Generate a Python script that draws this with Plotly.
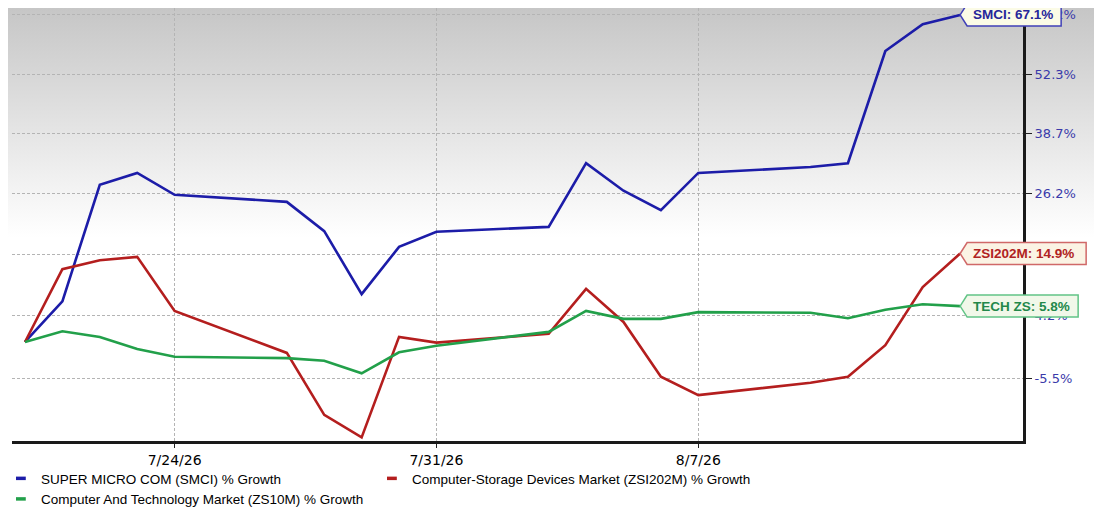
import base64
import math

import pandas as pd
import plotly.graph_objects as go

# trading days on the chart
dates = ["2026-07-20", "2026-07-21", "2026-07-22", "2026-07-23", "2026-07-24",
         "2026-07-27", "2026-07-28", "2026-07-29", "2026-07-30", "2026-07-31",
         "2026-08-03", "2026-08-04", "2026-08-05", "2026-08-06", "2026-08-07",
         "2026-08-10", "2026-08-11", "2026-08-12", "2026-08-13", "2026-08-14"]

# % growth since 7/20/26
smci_growth = [0.0, 6.6, 28.0, 30.4, 26.0, 24.6, 19.0, 7.8, 16.1, 18.9,
               19.8, 32.4, 26.8, 23.0, 30.4, 31.6, 32.4, 57.9, 64.7, 67.1]
zsi202m_growth = [0.0, 12.1, 13.7, 14.3, 5.0, -1.7, -10.8, -13.9, 0.8, -0.1,
                  1.3, 8.7, 3.2, -5.3, -8.0, -6.2, -5.3, -0.5, 9.0, 14.9]
tech_growth = [0.0, 1.7, 0.8, -1.1, -2.3, -2.5, -2.9, -4.8, -1.6, -0.6,
               1.6, 5.0, 3.7, 3.7, 4.8, 4.7, 3.8, 5.2, 6.1, 5.8]

legend_names = ["SUPER MICRO COM (SMCI) % Growth",
                "Computer-Storage Devices Market (ZSI202M) % Growth",
                "Computer And Technology Market (ZS10M) % Growth"]
tag_names = ["SMCI", "ZSI202M", "TECH ZS"]

x_tick_dates = ["2026-07-24", "2026-07-31", "2026-08-07"]
y_tick_pcts = [-5.5, 4.2, 14.7, 26.2, 38.7, 52.3, 67.2]
y_tick_labels = ["-5.5%", "4.2%", "14.7%", "26.2%", "38.7%", "52.3%", "67.2%"]

# colours: line, tag fill, tag border, tag text
styles = [
    ("#1c1ca8", "#fbfbe6", "#4040b8", "#26269a"),
    ("#b41e1e", "#fbf3e4", "#d06868", "#b02222"),
    ("#22a04a", "#f1f8e9", "#62c486", "#23884a"),
]
legend_ids = ["legend", "legend2", "legend"]

X_RANGE = ["2026-07-19 15:40", "2026-08-15 16:20"]
Y_RANGE = [-0.0675, 0.2277]   # log10 of (1 + growth)


def gradient_uri():
    svg = ('<svg xmlns="http://www.w3.org/2000/svg" width="10" height="10" '
           'viewBox="0 0 10 10" preserveAspectRatio="none">'
           '<defs><linearGradient id="g" x1="0" y1="0" x2="0" y2="1">'
           '<stop offset="0" stop-color="#c6c6c6"/>'
           '<stop offset="0.53" stop-color="#ffffff"/>'
           '<stop offset="1" stop-color="#ffffff"/></linearGradient></defs>'
           '<rect width="10" height="10" fill="url(#g)"/></svg>')
    return "data:image/svg+xml;base64," + base64.b64encode(svg.encode()).decode()


def to_domain(date, pct):
    # position of a point inside the plot area (0..1), same ranges as the axes
    t0, t1 = pd.Timestamp(X_RANGE[0]), pd.Timestamp(X_RANGE[1])
    fx = (pd.Timestamp(date) - t0) / (t1 - t0)
    fy = (math.log10(1 + pct / 100) - Y_RANGE[0]) / (Y_RANGE[1] - Y_RANGE[0])
    return fx, fy


fig = go.Figure()

series = [smci_growth, zsi202m_growth, tech_growth]
for vals, (line_c, _, _, _) in zip(series, styles):
    fig.add_trace(go.Scatter(
        x=dates, y=[1 + v / 100 for v in vals], mode="lines",
        line=dict(color=line_c, width=2.6), showlegend=False,
        hoverinfo="skip"))

# legend entries with short dash symbols
for name, lg, (line_c, _, _, _) in zip(legend_names, legend_ids, styles):
    fig.add_trace(go.Scatter(
        x=[None], y=[None], mode="markers", name=name, legend=lg,
        marker=dict(symbol="line-ew", size=7,
                    line=dict(color=line_c, width=3.5))))

# end-of-line tags
for vals, tag, (line_c, fill_c, border_c, text_c) in zip(series, tag_names, styles):
    text = f"{tag}: {vals[-1]:.1f}%"
    w = 8.6 * len(text) + 6
    fx, fy = to_domain(dates[-1], vals[-1])
    fig.add_shape(
        type="path", xref="paper", yref="paper",
        xsizemode="pixel", ysizemode="pixel", xanchor=fx, yanchor=fy,
        path=f"M0,0 L7,11 L{w:.0f},11 L{w:.0f},-11 L7,-11 Z",
        fillcolor=fill_c, line=dict(color=border_c, width=1.5), layer="above")
    fig.add_annotation(
        x=fx, y=fy, xref="paper", yref="paper", text=text, showarrow=False,
        xanchor="left", yanchor="middle", xshift=11,
        font=dict(family="Liberation Sans", size=13.5, color=text_c, weight="bold"))

fig.add_layout_image(
    source=gradient_uri(), xref="paper", yref="paper",
    x=-0.01, y=1.0, sizex=1.1, sizey=1.0, xanchor="left", yanchor="top",
    sizing="stretch", layer="below")

legend_style = dict(orientation="v", yanchor="top", xanchor="left",
                    itemwidth=30, bgcolor="rgba(0,0,0,0)", tracegroupgap=0,
                    font=dict(family="Liberation Sans", size=13.5))

# the page adds an 8px body margin, so margins are trimmed by that amount
fig.update_layout(
    width=1102, height=517,
    margin=dict(l=4, r=87, t=0, b=84, autoexpand=False),
    paper_bgcolor="white", plot_bgcolor="rgba(0,0,0,0)",
    font=dict(family="DejaVu Sans", color="black"),
    legend=dict(x=-0.011, y=-0.051, **legend_style),
    legend2=dict(x=0.356, y=-0.051, **legend_style),
)

fig.update_xaxes(
    type="date", range=X_RANGE, tickvals=x_tick_dates,
    tickformat="%-m/%-d/%y", ticks="outside", ticklen=4, tickcolor="#222",
    tickfont=dict(size=14, color="black"),
    showline=True, linecolor="#1a1a1a", linewidth=3,
    showgrid=True, gridcolor="#b4b4b4", griddash="3px,2px", gridwidth=1,
    zeroline=False)

fig.update_yaxes(
    type="log", range=Y_RANGE, side="right",
    tickvals=[1 + p / 100 for p in y_tick_pcts], ticktext=y_tick_labels,
    ticks="outside", ticklen=6, tickcolor="#222", ticklabeloverflow="allow",
    tickfont=dict(size=13, color="#3a3aaa"),
    showline=True, linecolor="#1a1a1a", linewidth=3,
    showgrid=True, gridcolor="#b4b4b4", griddash="3px,2px", gridwidth=1,
    zeroline=False)

fig.write_html("out.html")
